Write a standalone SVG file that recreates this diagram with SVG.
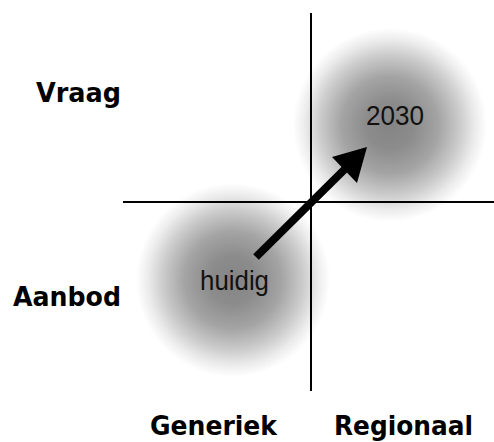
<svg xmlns="http://www.w3.org/2000/svg" width="494" height="442" viewBox="0 0 494 442">
<defs>
<radialGradient id="blob">
<stop offset="0" stop-color="#848484"/>
<stop offset="0.25" stop-color="#8c8c8c"/>
<stop offset="0.5" stop-color="#a4a4a4"/>
<stop offset="0.72" stop-color="#cbcbcb"/>
<stop offset="0.88" stop-color="#ececec"/>
<stop offset="1" stop-color="#ffffff"/>
</radialGradient>
<style>
.lbl{font-family:"DejaVu Sans","Liberation Sans",sans-serif;font-weight:bold;font-size:26px;fill:#000}
.val{font-family:"Liberation Sans",Arial,sans-serif;font-size:27px;fill:#111}
.axis{stroke:#000;stroke-width:2;fill:none}
</style>
</defs>
<rect width="494" height="442" fill="#fff"/>
<g id="blob-2030"><circle cx="390" cy="125" r="97" fill="url(#blob)"/></g>
<g id="blob-huidig"><circle cx="233" cy="280" r="97" fill="url(#blob)"/></g>
<g id="axes">
<line class="axis" x1="311" y1="13" x2="311" y2="391"/>
<line class="axis" x1="123" y1="202" x2="494" y2="202"/>
</g>
<g id="connectors">
<line x1="256" y1="257" x2="347" y2="167" stroke="#000" stroke-width="8"/>
<polygon points="367,147 332,157 357,183" fill="#000"/>
</g>
<g id="labels">
<text class="lbl" x="121" y="102" text-anchor="end" textLength="85" lengthAdjust="spacingAndGlyphs">Vraag</text>
<text class="lbl" x="121" y="306" text-anchor="end" textLength="108" lengthAdjust="spacingAndGlyphs">Aanbod</text>
<text class="lbl" x="150" y="435" textLength="127" lengthAdjust="spacingAndGlyphs">Generiek</text>
<text class="lbl" x="334" y="435" textLength="139" lengthAdjust="spacingAndGlyphs">Regionaal</text>
</g>
<g id="node-2030"><text class="val" x="366" y="125" textLength="58" lengthAdjust="spacingAndGlyphs">2030</text></g>
<g id="node-huidig"><text class="val" x="200" y="290" textLength="69" lengthAdjust="spacingAndGlyphs">huidig</text></g>
</svg>
